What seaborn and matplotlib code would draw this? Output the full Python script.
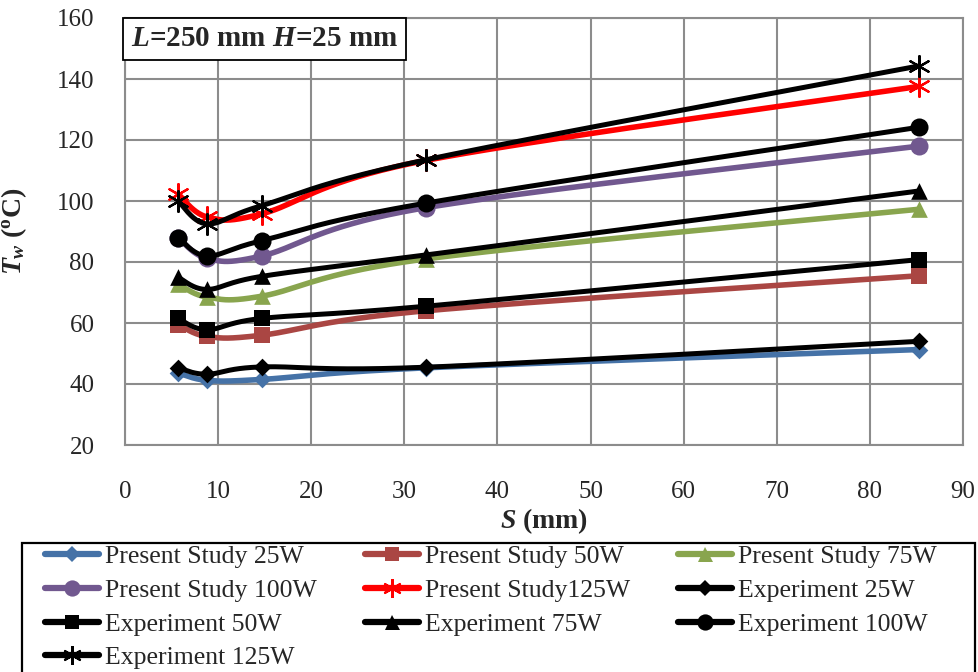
import numpy as np
import pandas as pd
import matplotlib
matplotlib.use("Agg")
import matplotlib.pyplot as plt
from matplotlib.lines import Line2D
from matplotlib.patches import Rectangle
import seaborn as sns

# ---- data ----
S_mm = [5.7, 8.8, 14.7, 32.3, 85.3]
ps_25 = [43.6, 41.2, 41.5, 45.3, 51.3]
ps_50 = [59.5, 55.6, 56.0, 64.0, 75.5]
ps_75 = [72.8, 68.5, 68.8, 81.0, 97.3]
ps_100 = [88.0, 81.2, 82.0, 97.8, 118.0]
ps_125 = [102.3, 94.8, 95.8, 113.3, 137.6]
ex_25 = [45.3, 43.2, 45.6, 45.5, 54.0]
ex_50 = [61.5, 57.8, 61.5, 65.5, 80.8]
ex_75 = [75.0, 71.0, 75.3, 82.3, 103.3]
ex_100 = [88.0, 82.0, 87.0, 99.3, 124.2]
ex_125 = [100.0, 92.5, 98.5, 113.5, 144.3]

labels = ["Present Study 25W", "Present Study 50W", "Present Study 75W",
          "Present Study 100W", "Present Study125W", "Experiment 25W",
          "Experiment 50W", "Experiment 75W", "Experiment 100W", "Experiment 125W"]
series = [ps_25, ps_50, ps_75, ps_100, ps_125, ex_25, ex_50, ex_75, ex_100, ex_125]
colors = ["#4572A7", "#AA4643", "#89A54E", "#71588F", "#FF0000",
          "black", "black", "black", "black", "black"]
markers = ["D", "s", "^", "o", (6, 2, 0), "D", "s", "^", "o", (6, 2, 0)]
msizes = [9, 11, 12, 13, 15, 9, 11, 12, 13, 15]

sns.set_style("white")
plt.rcParams["font.family"] = ["Liberation Serif", "DejaVu Serif"]
plt.rcParams["mathtext.fontset"] = "custom"
plt.rcParams["mathtext.it"] = "Liberation Serif:italic:bold"
plt.rcParams["mathtext.rm"] = "Liberation Serif:bold"
plt.rcParams["mathtext.bf"] = "Liberation Serif:bold"

W, H = 979, 672
fig = plt.figure(figsize=(W/100, H/100), dpi=100)
ax = fig.add_axes([125/W, 1-445/H, (963-125)/W, (445-18)/H])

sx = (963-125)/90.0
sy = (445-18)/140.0


def smooth(x, y, n=40):
    # Excel-like smoothed line (uniform Catmull-Rom in display space)
    P = np.column_stack([np.asarray(x) * sx, np.asarray(y) * sy])
    P = np.vstack([P[0], P, P[-1]])
    out = []
    t = np.linspace(0, 1, n)[:, None]
    for i in range(1, len(P) - 2):
        p0, p1, p2, p3 = P[i-1], P[i], P[i+1], P[i+2]
        c1 = p1 + (p2 - p0) / 6.0
        c2 = p2 - (p3 - p1) / 6.0
        seg = ((1-t)**3)*p1 + 3*((1-t)**2)*t*c1 + 3*(1-t)*(t**2)*c2 + (t**3)*p2
        out.append(seg if i == 1 else seg[1:])
    out = np.vstack(out)
    return out[:, 0] / sx, out[:, 1] / sy


for i, (lab, ys) in enumerate(zip(labels, series)):
    xs_s, ys_s = smooth(S_mm, ys)
    df_line = pd.DataFrame({"S": xs_s, "T": ys_s})
    lw = 4.0 if i < 5 else 3.6
    sns.lineplot(data=df_line, x="S", y="T", sort=False, estimator=None,
                 color=colors[i], lw=lw, ax=ax, zorder=3 + i)
    df_pts = pd.DataFrame({"S": S_mm, "T": ys})
    mk = markers[i]
    sns.scatterplot(data=df_pts, x="S", y="T", marker=mk, s=msizes[i]**2,
                    color=colors[i], edgecolor=colors[i],
                    linewidth=1.6 if isinstance(mk, tuple) else 0,
                    ax=ax, zorder=3 + i)

ax.set_xlim(0, 90)
ax.set_ylim(20, 160)
ax.set_xticks(np.arange(0, 91, 10))
ax.set_yticks(np.arange(20, 161, 20))
ax.grid(True, color="#8C8C8C", lw=1.5)
ax.set_axisbelow(True)
for sp in ax.spines.values():
    sp.set_color("#8C8C8C")
    sp.set_linewidth(1.5)
ax.tick_params(axis="both", length=0, labelsize=18)
ax.tick_params(axis="x", pad=26)
ax.tick_params(axis="y", pad=22)
ax.set_xlabel(r"$S$ (mm)", fontsize=20, fontweight="bold", labelpad=2)
ax.set_ylabel(r"$T_w$ ($^\mathrm{o}$C)", fontsize=20, fontweight="bold", labelpad=20)

# annotation box
fig.patches.append(Rectangle((123/W, 1-60/H), (406-123)/W, 42/H,
                             transform=fig.transFigure, fc="white",
                             ec="black", lw=1.3, zorder=20))
fig.text((123+406)/2/W, 1-39/H, r"$L$=250 mm $H$=25 mm", fontsize=21,
         fontweight="bold", ha="center", va="center", zorder=21)

handles = []
for i in range(10):
    mk = markers[i]
    handles.append(Line2D([0], [0], color=colors[i], lw=4.5, marker=mk,
                          markersize=msizes[i] * 0.9,
                          markeredgewidth=1.6 if isinstance(mk, tuple) else 0,
                          markeredgecolor=colors[i], markerfacecolor=colors[i]))
order = [0, 3, 6, 9, 1, 4, 7, 2, 5, 8]
leg = fig.legend([handles[k] for k in order], [labels[k] for k in order],
                 ncol=3, loc="upper left",
                 bbox_to_anchor=(45/W, 1-545/H),
                 fontsize=18.5, frameon=False,
                 handlelength=2.1, handletextpad=0.25, labelspacing=0.42,
                 borderpad=0, borderaxespad=0, columnspacing=1.85)
fig.patches.append(Rectangle((22/W, -0.01), (975-22)/W, (H-543)/H + 0.01,
                             transform=fig.transFigure, fill=False,
                             ec="black", lw=1.6))

fig.savefig("out.png", dpi=100)
